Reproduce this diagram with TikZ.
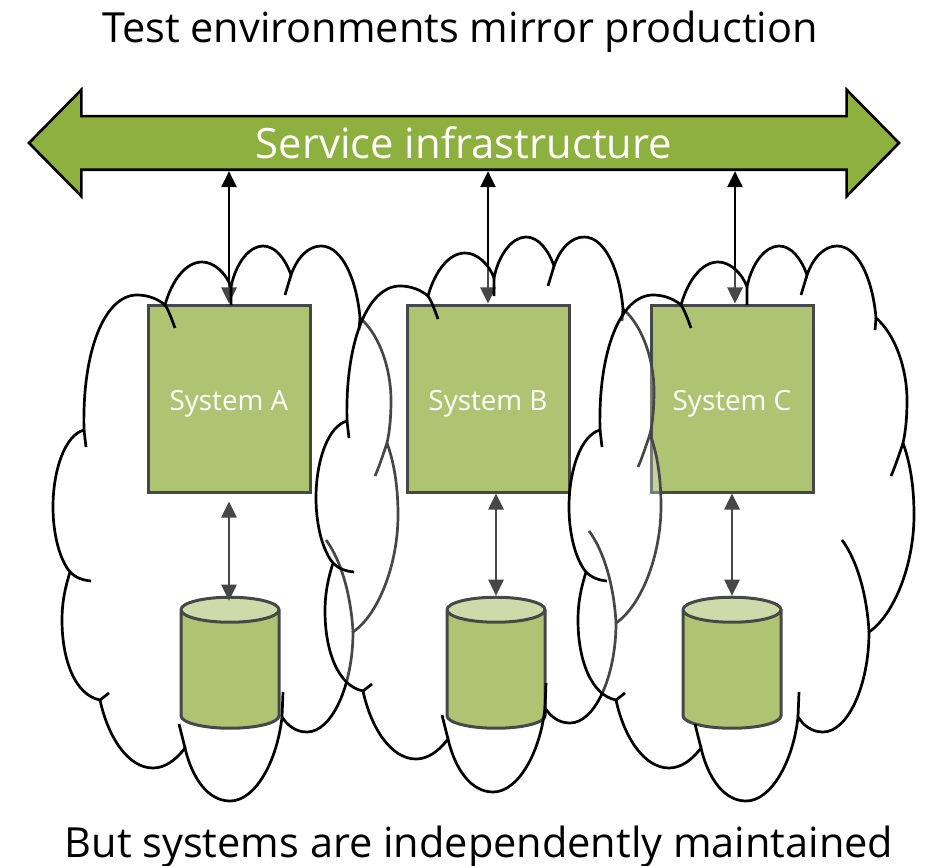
\documentclass[tikz,border=0pt]{standalone}
\usepackage{fontspec}
\setmainfont{Open Sans}
\usepackage{xcolor}
\usepackage{tikz}
\usetikzlibrary{arrows.meta,shapes.geometric,shapes.arrows}
\definecolor{sysgreen}{HTML}{90AE3C}
\definecolor{capgreen}{HTML}{BBCE8A}
\definecolor{infragreen}{HTML}{8DB03F}
\tikzset{
    sysbox/.style={draw=black,line width=3pt,fill=sysgreen,text=white,minimum width=162pt,minimum height=187pt,inner sep=0pt,text height=23pt,text depth=0pt,font=\fontsize{27.8}{30}\selectfont},
    dbcyl/.style={shape=cylinder,draw=black,line width=3pt,shape border rotate=90,aspect=6.25,minimum width=98pt,minimum height=131pt,inner sep=2pt,cylinder uses custom fill,cylinder body fill=sysgreen,cylinder end fill=capgreen},
    link/.style={line width=2.6pt,{Triangle[length=16pt,width=15pt]}-{Triangle[length=16pt,width=15pt]}},
    cloudfill/.style={fill=white,fill opacity=0.28,draw=black,line width=2.7pt},
    cloudtail/.style={draw=black,line width=2.7pt},
    headline/.style={anchor=base,font=\fontsize{41.5}{45}\selectfont}
}
% Outer edge of one cloud
\newcommand{\cloudedge}{(84,430) .. controls (82,350) and (105,295) .. (137,295) .. controls (148,295) and (158,299) .. (165,305)
    .. controls (172,280) and (186,262) .. (202,262) .. controls (214,262) and (226,273) .. (231,287)
    .. controls (236,262) and (250,246) .. (263,246) .. controls (275,246) and (285,258) .. (291,275)
    .. controls (297,258) and (308,246) .. (321,246) .. controls (343,246) and (357,282) .. (360,318)
    .. controls (380,335) and (391,370) .. (391,400) .. controls (391,415) and (390,430) .. (387,443)
    .. controls (395,465) and (398,490) .. (398,515) .. controls (398,565) and (378,615) .. (353,632)
    .. controls (353,685) and (332,732) .. (307,732) .. controls (296,732) and (288,726) .. (282,717)
    .. controls (277,762) and (255,801) .. (230,801) .. controls (208,801) and (192,778) .. (185,748)
    .. controls (176,760) and (165,768) .. (153,768) .. controls (128,768) and (108,737) .. (100,700)
    .. controls (75,695) and (62,660) .. (62,620) .. controls (62,600) and (66,585) .. (70,572)
    .. controls (60,560) and (53,535) .. (53,507) .. controls (53,470) and (65,435) .. (84,430) -- cycle}
% Inner tails of the lobes
\newcommand{\cloudtails}{(84,430) -- (86,447)
    (165,305) .. controls (169,311) and (172,320) .. (175,328)
    (231,287) -- (231,305)
    (291,275) -- (285,295)
    (360,318) -- (359,330)
    (387,443) .. controls (383,455) and (379,467) .. (375,476)
    (326,540) .. controls (341,560) and (351,595) .. (353,632)
    (282,717) -- (283,692)
    (185,748) -- (179,724)
    (100,700) -- (109,693)
    (70,572) .. controls (74,576) and (80,580) .. (91,581)}

\begin{document}
\begin{tikzpicture}[x=1pt,y=-1pt]
    \useasboundingbox (0,0) rectangle (925,866);

    \node[headline] (toptext) at (460,43) {Test environments mirror production};
    \node[headline] (bottomtext) at (479,857) {But systems are independently maintained};

    % Service bus
    \node[draw=black,line width=2.6pt,fill=infragreen,text=white,double arrow,double arrow head extend=26.5pt,double arrow tip angle=91,
        minimum height=870pt,inner xsep=0pt,inner ysep=9.5pt,text height=32pt,text depth=0pt,font=\fontsize{41.8}{45}\selectfont] (infra) at (464,143) {Service infrastructure};

    % Systems
    \node[sysbox] (sysA) at (229,398.5) {System A};
    \node[sysbox] (sysB) at (488,398.5) {System B};
    \node[sysbox] (sysC) at (732,398.5) {System C};

    % Databases
    \node[dbcyl] (dbA) at (230,671.5) {};
    \node[dbcyl] (dbB) at (496,671.5) {};
    \node[dbcyl] (dbC) at (732,671.5) {};

    % Links to the bus and to the databases
    \draw[link] (sysA.north |- infra.south) -- (sysA.north);
    \draw[link] (sysB.north |- infra.south) -- (sysB.north);
    \draw[link] ([xshift=3pt]sysC.north |- infra.south) -- ([xshift=3pt]sysC.north);
    \draw[link] ([yshift=-8pt]sysA.south) -- ([yshift=-5pt]dbA.north -| sysA.south);
    \draw[link] (dbB.north |- sysB.south) -- (dbB.north);
    \draw[link] (dbC.north |- sysC.south) -- (dbC.north);

    % Clouds over everything
    \foreach \dx/\dy in {0/0,263/-9,516/0} {
        \begin{scope}[shift={(\dx,\dy)}]
            \path[cloudfill] \cloudedge;
            \draw[cloudtail] \cloudtails;
        \end{scope}
    }
\end{tikzpicture}
\end{document}
